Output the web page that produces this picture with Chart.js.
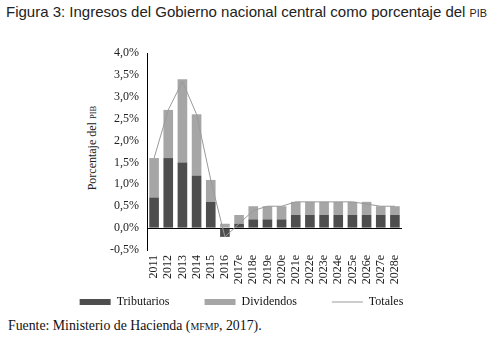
<!DOCTYPE html>
<html>
<head>
<meta charset="utf-8">
<script src="https://cdn.jsdelivr.net/npm/chart.js@4"></script>
<style>
  body { margin: 0; width: 498px; height: 348px; background: #fff; position: relative; overflow: hidden; }
  #title { position: absolute; left: 6px; top: 3px; font: 15px "Liberation Sans", Arial, sans-serif; color: #222; white-space: nowrap; }
  #ylabel { position: absolute; left: 92px; top: 148px; transform: translate(-50%, -50%) rotate(-90deg); font: 12px "Liberation Serif", serif; color: #222; white-space: nowrap; }
  #fuente { position: absolute; left: 8px; top: 318px; font: 13.8px "Liberation Serif", serif; color: #111; white-space: nowrap; }
  .sc { font-size: 0.72em; }
  #wrap { position: absolute; left: 0; top: 30px; width: 483px; height: 288px; }
</style>
</head>
<body>
<div id="title">Figura 3: Ingresos del Gobierno nacional central como porcentaje del <span class="sc">PIB</span></div>
<div id="ylabel">Porcentaje del <span class="sc">PIB</span></div>
<div id="fuente">Fuente: Ministerio de Hacienda (<span class="sc">MFMP</span>, 2017).</div>
<div id="wrap"><canvas id="myChart"></canvas></div>
<script>
// Ingresos del GNC (% del PIB)
var years = ['2011', '2012', '2013', '2014', '2015', '2016', '2017e', '2018e', '2019e',
    '2020e', '2021e', '2022e', '2023e', '2024e', '2025e', '2026e', '2027e', '2028e'];
var tributarios = [0.7, 1.6, 1.5, 1.2, 0.6, -0.2, 0.1, 0.2, 0.2, 0.2, 0.3, 0.3, 0.3, 0.3, 0.3, 0.3, 0.3, 0.3];
var dividendos = [0.9, 1.1, 1.9, 1.4, 0.5, 0.1, 0.2, 0.3, 0.3, 0.3, 0.3, 0.3, 0.3, 0.3, 0.3, 0.3, 0.2, 0.2];
var totales = [1.6, 2.7, 3.35, 2.6, 1.1, -0.2, 0.1, 0.4, 0.5, 0.5, 0.6, 0.6, 0.6, 0.6, 0.6, 0.55, 0.5, 0.5];

var serif = { family: '"Liberation Serif", serif', size: 12 };

var ctx = document.getElementById('myChart');
var myChart = new Chart(ctx, {
    type: 'bar',
    data: {
        labels: years,
        datasets: [
            {
                label: 'Tributarios',
                data: tributarios,
                backgroundColor: '#4e4e4e',
                pointStyle: 'rect',
                stack: 'a',
                categoryPercentage: 1,
                barPercentage: 0.68
            },
            {
                label: 'Dividendos',
                data: dividendos,
                backgroundColor: '#a6a6a6',
                pointStyle: 'rect',
                stack: 'a',
                categoryPercentage: 1,
                barPercentage: 0.68
            },
            {
                type: 'line',
                label: 'Totales',
                data: totales,
                borderColor: '#9a9a9a',
                backgroundColor: '#9a9a9a',
                borderWidth: 1,
                pointRadius: 0,
                pointStyle: 'line',
                stack: 'b',
                order: -1
            }
        ]
    },
    options: {
        responsive: true,
        maintainAspectRatio: false,
        animation: false,
        layout: { padding: { left: 0, top: 23, right: 0, bottom: 0 } },
        plugins: {
            tooltip: { enabled: false },
            legend: {
                position: 'bottom',
                labels: {
                    usePointStyle: true,
                    pointStyleWidth: 31,
                    boxHeight: 6,
                    padding: 35,
                    color: '#111',
                    font: serif,
                    sort: function (a, b) { return a.datasetIndex - b.datasetIndex; }
                }
            }
        },
        scales: {
            x: {
                stacked: true,
                grid: { display: false, drawTicks: false },
                border: { display: false },
                ticks: { color: '#222', font: serif, minRotation: 90, maxRotation: 90, padding: 5, autoSkip: false },
                afterFit: function (scale) {
                    scale.height = 11;
                    // let the year labels run down past the short axis box
                    scale._computeLabelArea = function () { return undefined; };
                }
            },
            y: {
                stacked: true,
                min: -0.5,
                max: 4,
                grid: {
                    drawTicks: false,
                    color: function (c) { return c.tick && c.tick.value === 0 ? '#000' : 'rgba(0,0,0,0)'; }
                },
                border: { display: true, color: '#000', width: 1 },
                ticks: {
                    stepSize: 0.5,
                    color: '#222',
                    font: serif,
                    padding: 8,
                    callback: function (v) { return v.toFixed(1).replace('.', ',') + '%'; }
                },
                afterFit: function (scale) { scale.width = 147; }
            },
            // empty right axis, only keeps the plot narrower than the legend
            yRight: {
                position: 'right',
                grid: { display: false, drawTicks: false },
                border: { display: false },
                ticks: { display: false },
                afterFit: function (scale) { scale.width = 81; }
            }
        }
    }
});
</script>
</body>
</html>
